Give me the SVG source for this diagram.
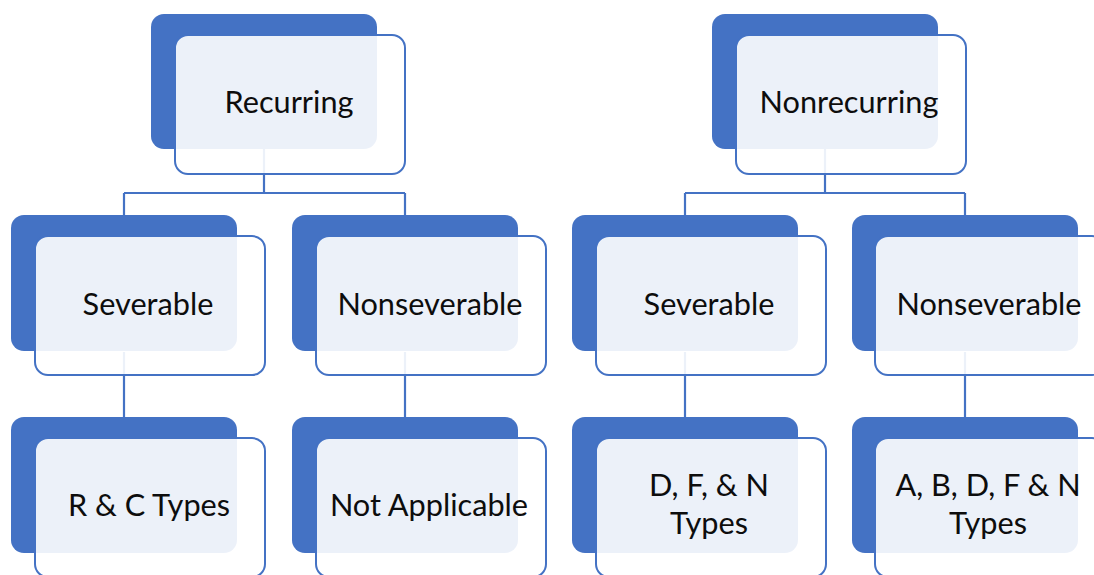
<svg xmlns="http://www.w3.org/2000/svg" width="1094" height="575" viewBox="0 0 1094 575">
<style>
.bg{fill:#ffffff}
.back{fill:#4472C4}
.front{fill:#ffffff;fill-opacity:0.9;stroke:#4472C4;stroke-width:2}
.conn{fill:none;stroke:#4472C4;stroke-width:2.2}
.lbl{font-family:Lato,"Liberation Sans",sans-serif;font-size:30.7px;fill:#0d0d0d;text-anchor:middle}
</style>
<rect class="bg" x="0" y="0" width="1094" height="575"/>
<g id="connectors">
<path class="conn" d="M264 148 V193 M124 193 H405 M124 193 V215 M405 193 V215"/>
<path class="conn" d="M825 148 V193 M685 193 H965 M685 193 V215 M965 193 V215"/>
<path class="conn" d="M124 352 V417 M405 352 V417 M685 352 V417 M965 352 V417"/>
</g>
<g id="n-recurring">
<rect class="back" x="151" y="14" width="226" height="135" rx="13"/>
<rect class="front" x="175" y="35" width="230" height="139" rx="13"/>
<text class="lbl" x="289" y="113">Recurring</text>
</g>
<g id="n-nonrecurring">
<rect class="back" x="712" y="14" width="226" height="135" rx="13"/>
<rect class="front" x="736" y="35" width="230" height="139" rx="13"/>
<text class="lbl" x="849" y="113">Nonrecurring</text>
</g>
<g id="n-rec-severable">
<rect class="back" x="11" y="215" width="226" height="136" rx="13"/>
<rect class="front" x="35" y="236" width="230" height="139" rx="13"/>
<text class="lbl" x="148" y="315">Severable</text>
</g>
<g id="n-rec-nonseverable">
<rect class="back" x="292" y="215" width="226" height="136" rx="13"/>
<rect class="front" x="316" y="236" width="230" height="139" rx="13"/>
<text class="lbl" x="430" y="315">Nonseverable</text>
</g>
<g id="n-non-severable">
<rect class="back" x="572" y="215" width="226" height="136" rx="13"/>
<rect class="front" x="596" y="236" width="230" height="139" rx="13"/>
<text class="lbl" x="709" y="315">Severable</text>
</g>
<g id="n-non-nonseverable">
<rect class="back" x="852" y="215" width="226" height="136" rx="13"/>
<rect class="front" x="875" y="236" width="230" height="139" rx="13"/>
<text class="lbl" x="989" y="315">Nonseverable</text>
</g>
<g id="n-rc-types">
<rect class="back" x="11" y="417" width="226" height="136" rx="13"/>
<rect class="front" x="35" y="438" width="230" height="139" rx="13"/>
<text class="lbl" x="149" y="516">R &amp; C Types</text>
</g>
<g id="n-not-applicable">
<rect class="back" x="292" y="417" width="226" height="136" rx="13"/>
<rect class="front" x="316" y="438" width="230" height="139" rx="13"/>
<text class="lbl" x="429" y="516">Not Applicable</text>
</g>
<g id="n-dfn-types">
<rect class="back" x="572" y="417" width="226" height="136" rx="13"/>
<rect class="front" x="596" y="438" width="230" height="139" rx="13"/>
<text class="lbl"><tspan x="709" y="496">D, F, &amp; N</tspan><tspan x="709" y="534">Types</tspan></text>
</g>
<g id="n-abdfn-types">
<rect class="back" x="852" y="417" width="226" height="136" rx="13"/>
<rect class="front" x="875" y="438" width="230" height="139" rx="13"/>
<text class="lbl"><tspan x="988" y="496">A, B, D, F &amp; N</tspan><tspan x="988" y="534">Types</tspan></text>
</g>
</svg>
